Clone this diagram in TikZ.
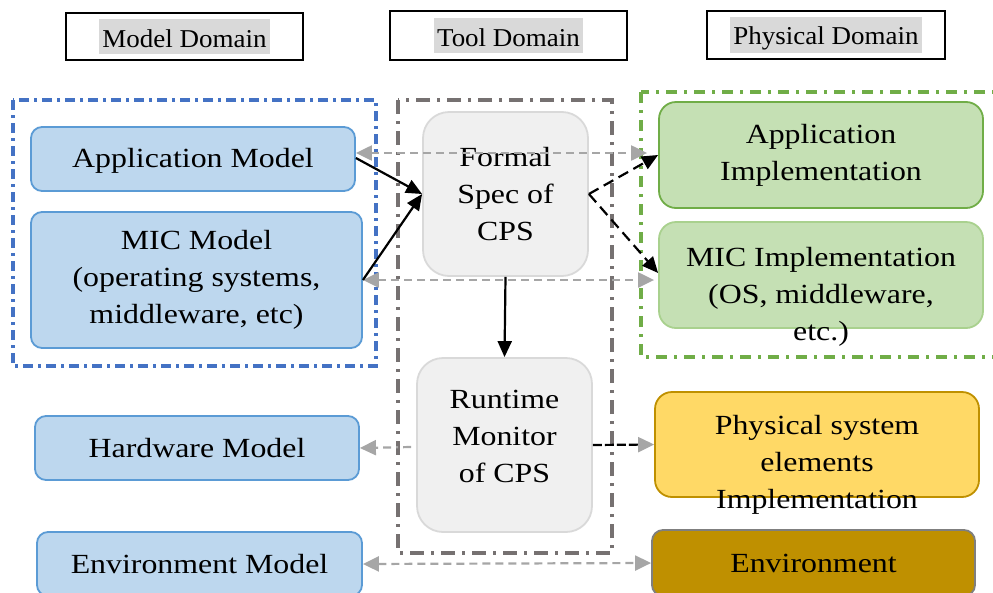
\documentclass[tikz,border=0pt]{standalone}
\usepackage{fontspec}
\setmainfont{Liberation Serif}[FakeStretch=1.15]
\usetikzlibrary{arrows.meta}

\definecolor{modelfill}{HTML}{BDD7EE}
\definecolor{modelline}{HTML}{5B9BD5}
\definecolor{modelframe}{HTML}{4472C4}
\definecolor{toolfill}{HTML}{F0F0F0}
\definecolor{toolline}{HTML}{D9D9D9}
\definecolor{toolframe}{HTML}{767171}
\definecolor{implfill}{HTML}{C5E0B4}
\definecolor{implline}{HTML}{70AD47}
\definecolor{implline2}{HTML}{A9D18E}
\definecolor{physfill}{HTML}{FFD966}
\definecolor{physline}{HTML}{BF9000}
\definecolor{envfill}{HTML}{BF9000}
\definecolor{envline}{HTML}{7F7F7F}
\definecolor{linkgray}{HTML}{A6A6A6}
\definecolor{hilite}{HTML}{D9D9D9}

% shaded caption text used in the domain headers
\newcommand{\hdrlabel}[1]{\colorbox{hilite}{\fboxsep=0pt\rule[-4pt]{0pt}{29pt}\scalebox{0.913}[1]{#1}}}

\tikzset{
  bigtext/.style={font=\fontsize{27.7}{37}\selectfont, align=center},
  hdrbox/.style={draw=black, line width=2pt, fill=white, minimum width=237pt,
    minimum height=48pt, inner sep=0pt, font=\fontsize{25.7}{29}\selectfont},
  modelbox/.style={bigtext, draw=modelline, fill=modelfill, line width=1.8pt,
    rounded corners=11pt, inner sep=0pt},
  toolbox/.style={bigtext, draw=toolline, fill=toolfill, line width=1.8pt,
    rounded corners=26pt, inner sep=0pt},
  implbox/.style={bigtext, draw=implline, fill=implfill, line width=1.8pt,
    rounded corners=17pt, inner sep=0pt},
  physbox/.style={bigtext, draw=physline, fill=physfill, line width=1.8pt,
    rounded corners=17pt, inner sep=0pt},
  envbox/.style={bigtext, draw=envline, fill=envfill, line width=1.8pt,
    rounded corners=11pt, inner sep=0pt},
  plaintext/.style={bigtext, inner sep=0pt},
  frameblue/.style={draw=modelframe, line width=3.4pt,
    dash pattern=on 10pt off 5pt on 3pt off 5pt},
  framegray/.style={draw=toolframe, line width=3.6pt,
    dash pattern=on 14pt off 7pt on 3pt off 7pt},
  framegreen/.style={draw=implline, line width=3.4pt,
    dash pattern=on 11pt off 7pt on 3pt off 7pt},
  solidarrow/.style={draw=black, line width=2.2pt, -{Triangle[length=16pt,width=14pt]}},
  dasharrow/.style={draw=black, line width=2.2pt, dash pattern=on 11pt off 6pt,
    -{Triangle[length=16pt,width=14pt]}},
  grayboth/.style={draw=linkgray, line width=2.2pt, dash pattern=on 8pt off 5pt,
    {Triangle[length=16pt,width=15pt]}-{Triangle[length=16pt,width=15pt]}},
  graydashdot/.style={draw=linkgray, line width=2.2pt,
    dash pattern=on 8pt off 5pt on 2pt off 5pt,
    -{Triangle[length=16pt,width=15pt]}},
  mixarrow/.style={draw=black, line width=2.2pt, dash pattern=on 9pt off 3pt,
    -{Triangle[length=16pt,width=15pt,color=linkgray,fill=linkgray]}},
}

\begin{document}
\begin{tikzpicture}[x=1pt, y=-1pt]
\useasboundingbox (0,0) rectangle (993,592);
\clip (0,0) rectangle (993,592);

% domain headers
\node[hdrbox, minimum height=47pt] (hmodel) at (184.5,36.5) {\hdrlabel{Model Domain}};
\node[hdrbox, minimum height=49pt] (htool) at (508.5,35.5) {\hdrlabel{Tool Domain}};
\node[hdrbox, minimum width=238pt] (hphys) at (826,35) {\hdrlabel{Physical Domain}};

% domain frames
\draw[frameblue] (13,100) rectangle (376,366);
\draw[framegray] (398,100) rectangle (612,553);
\draw[framegreen] (641,92) rectangle (1010,357);

% model domain
\node[modelbox, minimum width=324pt, minimum height=64pt, text depth=2pt] (appm) at (193,159) {Application Model};
\node[modelbox, minimum width=331pt, minimum height=136pt] (micm) at (196.5,280)
  {MIC Model\\(operating systems,\\middleware, etc)};
\node[modelbox, minimum width=324pt, minimum height=64pt] (hwm) at (197,448) {Hardware Model};
\node[modelbox, minimum width=325pt, minimum height=64pt] (envm) at (199.5,564) {Environment Model};

% tool domain
\node[toolbox, minimum width=165pt, minimum height=164pt] (formal) at (505.5,194)
  {Formal\\Spec of\\CPS};
\node[toolbox, minimum width=175pt, minimum height=174pt] (runtime) at (504.5,445) {};
\node[plaintext] (runtimetext) at (504.5,436) {Runtime\\Monitor\\of CPS};

% physical domain
\node[implbox, minimum width=324pt, minimum height=106pt] (appimpl) at (821,155)
  {Application\\Implementation};
\node[implbox, draw=implline2, minimum width=324pt, minimum height=106pt] (micimpl) at (821,275) {};
\node[plaintext] (micimpltext) at (821,297) {MIC Implementation\\(OS, middleware,\\etc.)};
\node[physbox, minimum width=324pt, minimum height=105pt] (phys) at (817,444.5) {};
\node[plaintext] (phystext) at (817,465) {Physical system\\elements\\Implementation};
\node[envbox, minimum width=323pt, minimum height=66pt] (env) at (813.5,563) {Environment};

% connectors
\draw[grayboth] ([yshift=6pt]appm.east) -- ([xshift=-11pt,yshift=2pt]appimpl.west);
\draw[grayboth] (micm.east) -- ([xshift=-4pt,yshift=-5pt]micimpl.west);
\draw[solidarrow] ([yshift=1pt]appm.east) -- (formal.west);
\draw[solidarrow] (micm.east) -- (formal.west);
\draw[dasharrow] (formal.east) -- (appimpl.west);
\draw[dasharrow] (formal.east) -- ([yshift=2pt]micimpl.west);
\draw[solidarrow] (formal.south) -- (runtime.north);
\draw[graydashdot] ([xshift=-5pt,yshift=-2pt]runtime.west) -- (hwm.east);
\draw[mixarrow] (runtime.east) -- (phys.west);
\draw[grayboth] (envm.east) -- (env.west);
\end{tikzpicture}
\end{document}
